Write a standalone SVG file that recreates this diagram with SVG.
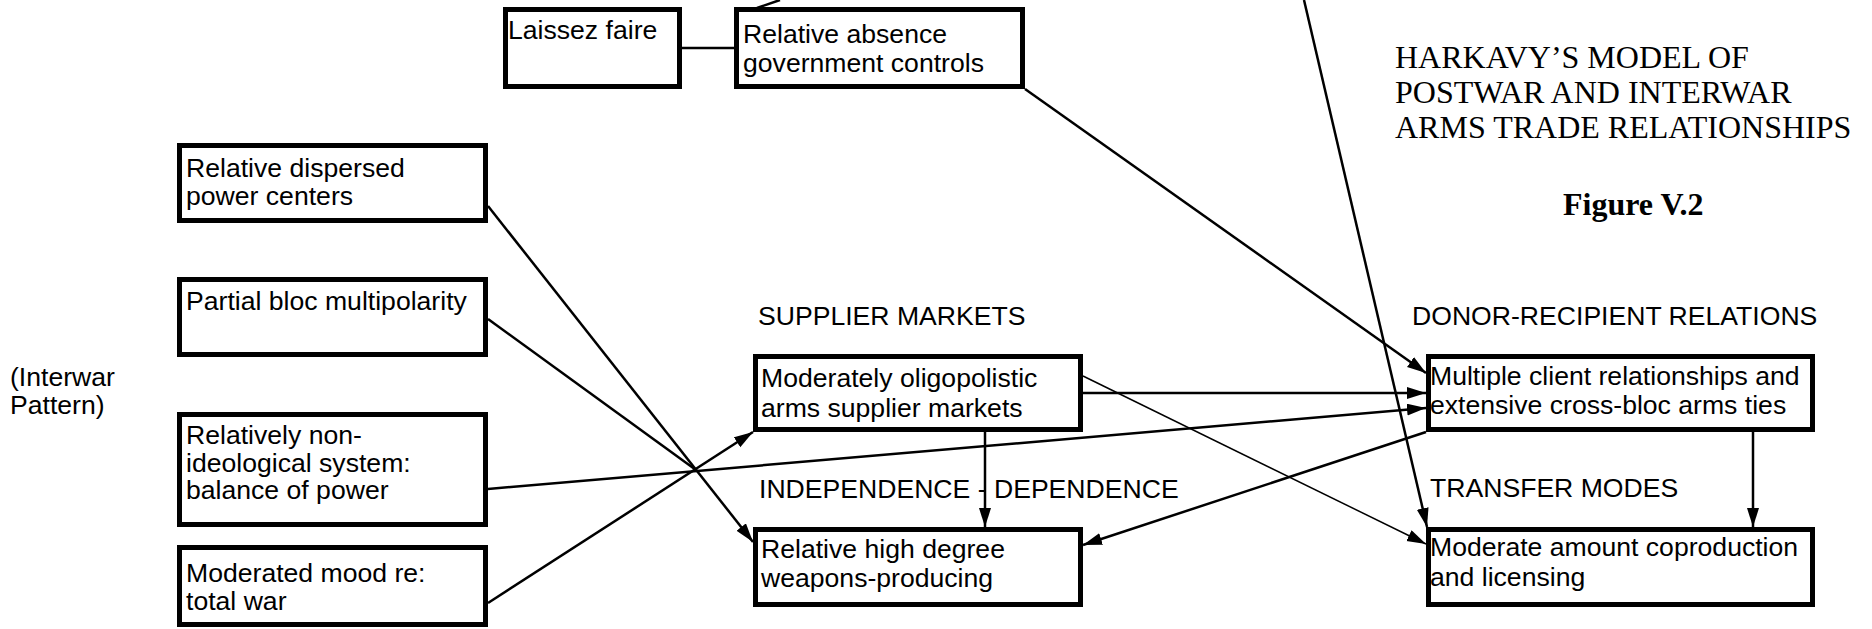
<svg xmlns="http://www.w3.org/2000/svg" width="1872" height="629" viewBox="0 0 1872 629">
  <style>
    .box { fill: #ffffff; stroke: #000000; stroke-width: 5; }
    .t { font-family: "Liberation Sans", Arial, sans-serif; font-size: 26.6px; fill: #000000; }
    .title { font-family: "Liberation Serif", "Times New Roman", serif; font-size: 32px; fill: #000000; }
    .fig { font-family: "Liberation Serif", "Times New Roman", serif; font-size: 32px; font-weight: bold; fill: #000000; }
    .c { stroke: #000000; stroke-width: 2.5; fill: none; }
    .thin { stroke: #000000; stroke-width: 1.5; fill: none; }
  </style>
  <defs>
    <marker id="arrow" markerUnits="userSpaceOnUse" markerWidth="20" markerHeight="14" refX="19" refY="6" orient="auto">
      <path d="M0,0 L19,6 L0,12 z" fill="#000000"/>
    </marker>
  </defs>
  <rect width="1872" height="629" fill="#ffffff"/>

  <!-- Headings and side labels -->
  <g id="labels">
    <text class="title" x="1395" y="68">HARKAVY’S MODEL OF</text>
    <text class="title" x="1395" y="103">POSTWAR AND INTERWAR</text>
    <text class="title" x="1395" y="138">ARMS TRADE RELATIONSHIPS</text>
    <text class="fig" x="1563" y="215">Figure V.2</text>
    <text class="t" x="10" y="386">(Interwar</text>
    <text class="t" x="10" y="414">Pattern)</text>
    <text class="t" x="758" y="325">SUPPLIER MARKETS</text>
    <text class="t" x="1412" y="325">DONOR-RECIPIENT RELATIONS</text>
    <text class="t" x="759" y="498">INDEPENDENCE - DEPENDENCE</text>
    <text class="t" x="1430" y="497">TRANSFER MODES</text>
  </g>

  <!-- Connectors -->
  <g id="connectors">
    <line class="c" x1="682" y1="48" x2="734" y2="48"/>
    <line class="c" x1="757" y1="8" x2="780" y2="0"/>
    <line class="c" x1="1304" y1="0" x2="1427" y2="527" marker-end="url(#arrow)"/>
    <line class="c" x1="1025" y1="89" x2="1426" y2="373" marker-end="url(#arrow)"/>
    <line class="c" x1="488" y1="206" x2="753" y2="542" marker-end="url(#arrow)"/>
    <line class="c" x1="488" y1="319" x2="696" y2="470"/>
    <line class="c" x1="488" y1="489" x2="1426" y2="408" marker-end="url(#arrow)"/>
    <line class="c" x1="488" y1="603" x2="753" y2="432" marker-end="url(#arrow)"/>
    <line class="c" x1="985" y1="432" x2="985" y2="527" marker-end="url(#arrow)"/>
    <line class="c" x1="1083" y1="393" x2="1426" y2="393" marker-end="url(#arrow)"/>
    <line class="thin" x1="1083" y1="376" x2="1426" y2="544" marker-end="url(#arrow)"/>
    <line class="c" x1="1426" y1="432" x2="1083" y2="545" marker-end="url(#arrow)"/>
    <line class="c" x1="1753" y1="432" x2="1753" y2="527" marker-end="url(#arrow)"/>
  </g>

  <!-- Nodes -->
  <g id="laissez-faire">
    <rect class="box" x="505.5" y="9.5" width="174" height="77"/>
    <text class="t" x="508" y="39">Laissez faire</text>
  </g>
  <g id="absence-controls">
    <rect class="box" x="736.5" y="9.5" width="286" height="77"/>
    <text class="t" x="743" y="43">Relative absence</text>
    <text class="t" x="743" y="72">government controls</text>
  </g>
  <g id="dispersed-power">
    <rect class="box" x="179.5" y="145.5" width="306" height="75"/>
    <text class="t" x="186" y="177">Relative dispersed</text>
    <text class="t" x="186" y="205">power centers</text>
  </g>
  <g id="bloc-multipolarity">
    <rect class="box" x="179.5" y="279.5" width="306" height="75"/>
    <text class="t" x="186" y="310">Partial bloc multipolarity</text>
  </g>
  <g id="non-ideological">
    <rect class="box" x="179.5" y="414.5" width="306" height="110"/>
    <text class="t" x="186" y="444">Relatively non-</text>
    <text class="t" x="186" y="472">ideological system:</text>
    <text class="t" x="186" y="499">balance of power</text>
  </g>
  <g id="moderated-mood">
    <rect class="box" x="179.5" y="547.5" width="306" height="77"/>
    <text class="t" x="186" y="582">Moderated mood re:</text>
    <text class="t" x="186" y="610">total war</text>
  </g>
  <g id="oligopolistic-markets">
    <rect class="box" x="755.5" y="356.5" width="325" height="73"/>
    <text class="t" x="761" y="387">Moderately oligopolistic</text>
    <text class="t" x="761" y="417">arms supplier markets</text>
  </g>
  <g id="weapons-producing">
    <rect class="box" x="755.5" y="529.5" width="325" height="75"/>
    <text class="t" x="761" y="558">Relative high degree</text>
    <text class="t" x="761" y="587">weapons-producing</text>
  </g>
  <g id="client-relationships">
    <rect class="box" x="1428.5" y="356.5" width="384" height="73"/>
    <text class="t" x="1430" y="385">Multiple client relationships and</text>
    <text class="t" x="1430" y="414">extensive cross-bloc arms ties</text>
  </g>
  <g id="coproduction">
    <rect class="box" x="1428.5" y="529.5" width="384" height="75"/>
    <text class="t" x="1430" y="556">Moderate amount coproduction</text>
    <text class="t" x="1430" y="586">and licensing</text>
  </g>
</svg>
